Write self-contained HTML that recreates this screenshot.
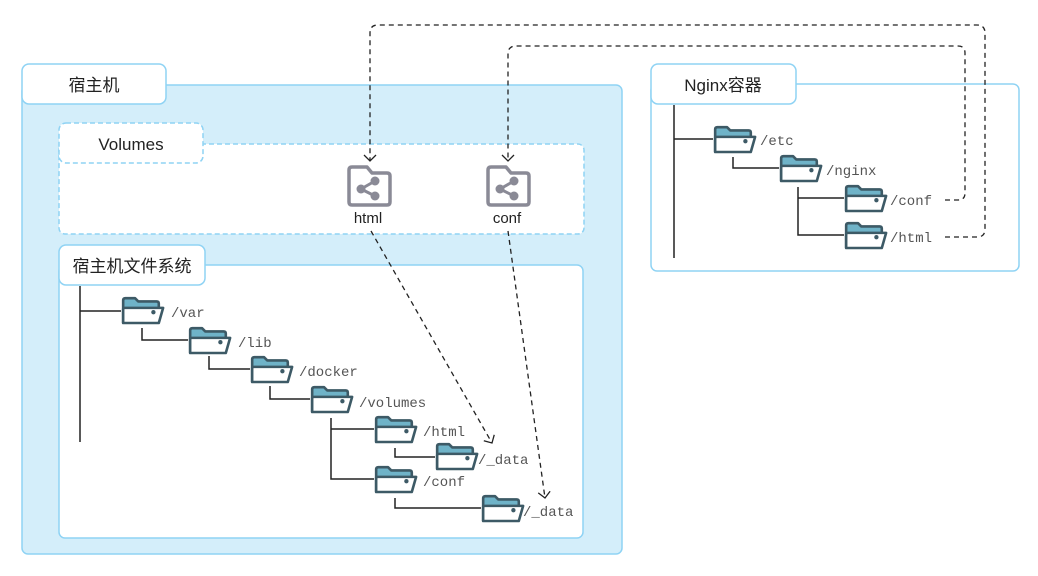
<!DOCTYPE html>
<html><head><meta charset="utf-8"><style>
html,body{margin:0;padding:0;background:#fff;width:1038px;height:576px;overflow:hidden}
svg{display:block}
.cn{font-family:"Liberation Sans","Noto Sans CJK SC",sans-serif;font-size:17px;fill:#222}
.mono{font-family:"Liberation Mono","DejaVu Sans Mono",monospace;font-size:14px;fill:#555}
.t{stroke:#222;stroke-width:1.5;fill:none}
.d{stroke:#222;stroke-width:1.3;fill:none;stroke-dasharray:5,4}
</style></head><body>
<svg width="1038" height="576" viewBox="0 0 1038 576" xmlns="http://www.w3.org/2000/svg">
<defs>
<g id="f" transform="scale(1.08)">
<path d="M2,4 Q2,2 4,2 H13 L16,5 H33 Q35,5 35,7 V11 H5 L2,20 Z" fill="#6fb3c8"/>
<path d="M2,25 V4 Q2,2 4,2 H13 L16,5 H33 Q35,5 35,7 V11" fill="none" stroke="#3d5a66" stroke-width="2.4" stroke-linejoin="round"/>
<path d="M2,25 L2,12 Q2,11 4,11 H39 L35,25 Z" fill="#fff" stroke="#3d5a66" stroke-width="2.4" stroke-linejoin="round"/>
<circle cx="30" cy="15" r="2" fill="#3d5a66"/>
</g>
<g id="v">
<path d="M2,37 V5 Q2,2 5,2 H20 L25,8 H40 Q43,8 43,11 V37 Q43,40 40,40 H5 Q2,40 2,37 Z" fill="#fff" stroke="#8a8a96" stroke-width="3.5" stroke-linejoin="round"/>
<circle cx="14" cy="24" r="4.5" fill="#8a8a96"/>
<circle cx="28" cy="16" r="4.5" fill="#8a8a96"/>
<circle cx="28" cy="31" r="4.5" fill="#8a8a96"/>
<path d="M14,24 L28,16 M14,24 L28,31" stroke="#8a8a96" stroke-width="3"/>
</g>
<marker id="a" markerWidth="14" markerHeight="14" refX="11" refY="7" orient="auto" markerUnits="userSpaceOnUse">
<path d="M5,1 L11,7 L5,13" fill="none" stroke="#222" stroke-width="1.3"/>
</marker>
</defs>

<rect x="22" y="85" width="600" height="469" rx="6" fill="#d4eefa" stroke="#8fd3f4" stroke-width="1.5"/>
<rect x="22" y="64" width="144" height="40" rx="7" fill="#fff" stroke="#8fd3f4" stroke-width="1.5"/>
<text x="94" y="91" text-anchor="middle" class="cn">宿主机</text>

<rect x="59" y="144" width="525" height="90" rx="6" fill="#fff" stroke="#8fd3f4" stroke-width="1.5" stroke-dasharray="5,3"/>
<rect x="59" y="123" width="144" height="40" rx="7" fill="#fff" stroke="#8fd3f4" stroke-width="1.5" stroke-dasharray="5,3"/>
<text x="131" y="150" text-anchor="middle" class="cn">Volumes</text>

<rect x="59" y="265" width="524" height="273" rx="6" fill="#fff" stroke="#8fd3f4" stroke-width="1.5"/>
<rect x="59" y="245" width="146" height="40" rx="7" fill="#fff" stroke="#8fd3f4" stroke-width="1.5"/>
<text x="132" y="272" text-anchor="middle" class="cn">宿主机文件系统</text>

<path class="t" d="M80,286 V442 M80,311 H121 M142,328 V340 H188 M209,356 V369 H250 M270,386 V399 H310 M331,418 V479 H374 M331,429 H374 M395,448 V457 H435 M395,498 V508 H481"/>
<use href="#f" x="121" y="296"/><text x="171" y="317" class="mono">/var</text>
<use href="#f" x="188" y="326"/><text x="238" y="347" class="mono">/lib</text>
<use href="#f" x="250" y="355"/><text x="299" y="376" class="mono">/docker</text>
<use href="#f" x="310" y="385"/><text x="359" y="407" class="mono">/volumes</text>
<use href="#f" x="374" y="415"/><text x="423" y="436" class="mono">/html</text>
<use href="#f" x="435" y="442"/><text x="478" y="464" class="mono">/_data</text>
<use href="#f" x="374" y="465"/><text x="423" y="486" class="mono">/conf</text>
<use href="#f" x="481" y="494"/><text x="523" y="516" class="mono">/_data</text>

<use href="#v" x="347" y="165"/>
<text x="368" y="223" text-anchor="middle" class="cn" style="font-size:15px">html</text>
<use href="#v" x="486" y="165"/>
<text x="507" y="223" text-anchor="middle" class="cn" style="font-size:15px">conf</text>

<rect x="651" y="84" width="368" height="187" rx="6" fill="#fff" stroke="#8fd3f4" stroke-width="1.5"/>
<rect x="651" y="64" width="145" height="40" rx="7" fill="#fff" stroke="#8fd3f4" stroke-width="1.5"/>
<text x="723" y="91" text-anchor="middle" class="cn">Nginx容器</text>
<path class="t" d="M674,105 V258 M674,139 H713 M733,157 V168 H779 M798,187 V235 H844 M798,198 H844"/>
<use href="#f" x="713" y="125"/><text x="760" y="145" class="mono">/etc</text>
<use href="#f" x="779" y="154"/><text x="826" y="175" class="mono">/nginx</text>
<use href="#f" x="844" y="184"/><text x="890" y="205" class="mono">/conf</text>
<use href="#f" x="844" y="221"/><text x="890" y="242" class="mono">/html</text>

<path class="d" d="M945,237 H977 Q985,237 985,229 V33 Q985,25 977,25 H378 Q370,25 370,33 V161" marker-end="url(#a)"/>
<path class="d" d="M945,200 H958 Q965,200 965,193 V53 Q965,46 958,46 H516 Q508,46 508,54 V161" marker-end="url(#a)"/>
<path class="d" d="M371,231 L492,443" marker-end="url(#a)"/>
<path class="d" d="M508,231 L545,498" marker-end="url(#a)"/>
</svg>
</body></html>
